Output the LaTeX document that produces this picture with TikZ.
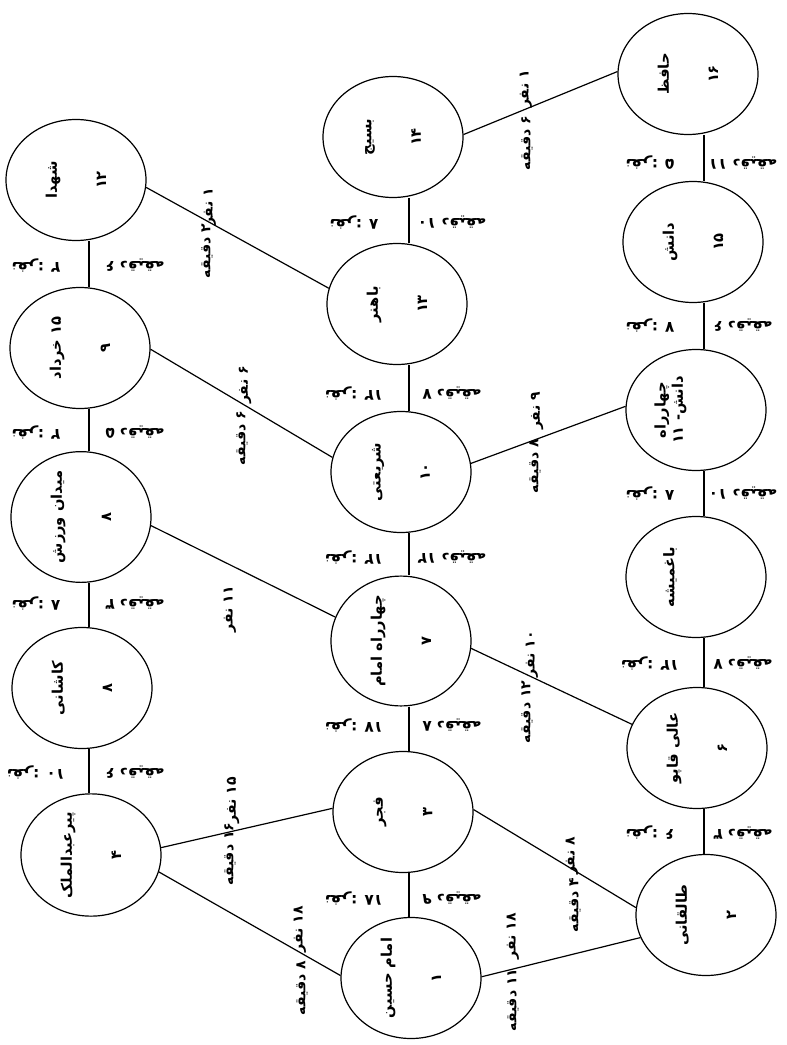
\documentclass[tikz,border=0pt]{standalone}
\usepackage{fontspec}
\newfontfamily\fa[Script=Arabic]{DejaVu Sans}
\TeXXeTstate=1
\usetikzlibrary{shapes.geometric}
\newcommand{\rl}[1]{\beginR #1\endR}
\tikzset{
  stop/.style={draw, ellipse, line width=0.9pt, minimum width=90.75pt, minimum height=105pt,
    inner sep=0pt, rotate=90, align=center, font=\fa\bfseries\fontsize{11}{13}\selectfont},
  lbl/.style={rotate=90, inner sep=1pt, font=\fa\bfseries\fontsize{10.5}{12}\selectfont},
  vlbl/.style={rotate=180, inner sep=1pt, font=\fa\bfseries\fontsize{11.5}{13}\selectfont}
}

\begin{document}
\begin{tikzpicture}[x=0.75pt, y=-0.75pt, line width=0.9pt]
\useasboundingbox (0,0) rectangle (787,1045);
% x of the straight links in each column
\coordinate (lcol) at (89,0);
\coordinate (mcol) at (409,0);
\coordinate (rcol) at (704,0);

% left column
\node[stop] (s12) at (76,180) {\rl{شهدا}\\[24pt]\rl{۱۲}};
\node[stop] (s9) at (80,348) {\rl{۱۵ خرداد}\\[24pt]\rl{۹}};
\node[stop] (s8) at (81,517) {\rl{میدان ورزش}\\[24pt]\rl{۸}};
\node[stop] (s5) at (82,688) {\rl{کاشانی}\\[24pt]\rl{۸}};
\node[stop] (s4) at (91,855) {\rl{پیرعبدالملک}\\[24pt]\rl{۴}};
% middle column
\node[stop] (s14) at (393,137) {\rl{بسیج}\\[24pt]\rl{۱۴}};
\node[stop] (s13) at (397,304) {\rl{باهنر}\\[24pt]\rl{۱۳}};
\node[stop] (s10) at (401,472) {\rl{شریعتی}\\[24pt]\rl{۱۰}};
\node[stop] (s7) at (401,641) {\rl{چهارراه امام}\\[24pt]\rl{۷}};
\node[stop] (s3) at (403,812) {\rl{فجر}\\[24pt]\rl{۳}};
\node[stop] (s1) at (411,978) {\rl{امام حسین}\\[24pt]\rl{۱}};
% right column
\node[stop] (s16) at (688,74) {\rl{حافظ}\\[24pt]\rl{۱۶}};
\node[stop] (s15) at (693,242) {\rl{دانش}\\[24pt]\rl{۱۵}};
\node[stop] (s11) at (696,410) {\rl{چهارراه}\\\rl{دانش- ۱۱}\\[24pt]\strut};
\node[stop] (sb) at (696,577) {\rl{باغمیشه}\\[24pt]\strut};
\node[stop] (s6) at (697,748) {\rl{عالی قاپو}\\[24pt]\rl{۶}};
\node[stop] (s2) at (706,915) {\rl{طالقانی}\\[24pt]\rl{۲}};

% straight links
\draw (s12.west -| lcol) -- (s9.east -| lcol);
\draw (s9.west -| lcol) -- (s8.east -| lcol);
\draw (s8.west -| lcol) -- (s5.east -| lcol);
\draw (s5.west -| lcol) -- (s4.east -| lcol);
\draw (s14.west -| mcol) -- (s13.east -| mcol);
\draw (s13.west -| mcol) -- (s10.east -| mcol);
\draw (s10.west -| mcol) -- (s7.east -| mcol);
\draw (s7.west -| mcol) -- (s3.east -| mcol);
\draw (s3.west -| mcol) -- (s1.east -| mcol);
\draw (s16.west -| rcol) -- (s15.east -| rcol);
\draw (s15.west -| rcol) -- (s11.east -| rcol);
\draw (s11.west -| rcol) -- (sb.east -| rcol);
\draw (sb.west -| rcol) -- (s6.east -| rcol);
\draw (s6.west -| rcol) -- (s2.east -| rcol);

% cross links
\draw (s12.264) -- (s13.77);
\draw (s14.272) -- (s16.88);
\draw (s9.269) -- (s10.78);
\draw (s8.263) -- (s7.70);
\draw (s10.277) -- (s11.87);
\draw (s7.264) -- (s6.70);
\draw (s4.276) -- (s3.87);
\draw (s4.256) -- (s1.88);
\draw (s3.272) -- (s2.84);
\draw (s1.271) -- (s2.109);

% labels of the cross links
\node[lbl] (c1a) at (210,207) {\rl{۱ نفر}};
\node[lbl] (c1b) at (207,251) {\rl{۲ دقیقه}};
\node[lbl] (c2a) at (526,89) {\rl{۱ نفر}};
\node[lbl] (c2b) at (527,143) {\rl{۶ دقیقه}};
\node[lbl] (c3a) at (245,385) {\rl{۶ نفر}};
\node[lbl] (c3b) at (242,438) {\rl{۶ دقیقه}};
\node[lbl] (c4a) at (230,609) {\rl{۱۱ نفر}};
\node[lbl] (c5a) at (537,411) {\rl{۹ نفر}};
\node[lbl] (c5b) at (535,466) {\rl{۸ دقیقه}};
\node[lbl] (c6a) at (532,654) {\rl{۱۰ نفر}};
\node[lbl] (c6b) at (527,712) {\rl{۱۲ دقیقه}};
\node[lbl] (c7a) at (233,800) {\rl{۱۵ نفر}};
\node[lbl] (c7b) at (230,854) {\rl{۱۶ دقیقه}};
\node[lbl] (c8a) at (300,929) {\rl{۱۸ نفر}};
\node[lbl] (c8b) at (302,988) {\rl{۸ دقیقه}};
\node[lbl] (c9a) at (572,856) {\rl{۸ نفر}};
\node[lbl] (c9b) at (575,905) {\rl{۴ دقیقه}};
\node[lbl] (c10a) at (513,936) {\rl{۱۸ نفر}};
\node[lbl] (c10b) at (513,1000) {\rl{۱۱ دقیقه}};

% labels of the straight links
\node[vlbl] (v1a) at (36,265) {\rl{نفر: ۲}};
\node[vlbl] (v1b) at (135,265) {\rl{۶ دقیقه}};
\node[vlbl] (v2a) at (36,432) {\rl{نفر: ۲}};
\node[vlbl] (v2b) at (135,432) {\rl{۵ دقیقه}};
\node[vlbl] (v3a) at (36,603) {\rl{نفر: ۸}};
\node[vlbl] (v3b) at (135,603) {\rl{۳ دقیقه}};
\node[vlbl] (v4a) at (36,772) {\rl{نفر: ۱۰}};
\node[vlbl] (v4b) at (135,772) {\rl{۶ دقیقه}};
\node[vlbl] (v5a) at (354,222) {\rl{نفر: ۸}};
\node[vlbl] (v5b) at (452,222) {\rl{۱۰ دقیقه}};
\node[vlbl] (v6a) at (354,393) {\rl{نفر: ۱۲}};
\node[vlbl] (v6b) at (452,393) {\rl{۷ دقیقه}};
\node[vlbl] (v7a) at (354,557) {\rl{نفر: ۱۲}};
\node[vlbl] (v7b) at (452,557) {\rl{۱۲ دقیقه}};
\node[vlbl] (v8a) at (354,725) {\rl{نفر: ۱۷}};
\node[vlbl] (v8b) at (452,725) {\rl{۸ دقیقه}};
\node[vlbl] (v9a) at (354,898) {\rl{نفر: ۱۸}};
\node[vlbl] (v9b) at (452,898) {\rl{۹ دقیقه}};
\node[vlbl] (v10a) at (650,163) {\rl{نفر: ۵}};
\node[vlbl] (v10b) at (743,163) {\rl{۱۱ دقیقه}};
\node[vlbl] (v11a) at (650,325) {\rl{نفر: ۷}};
\node[vlbl] (v11b) at (743,325) {\rl{۶ دقیقه}};
\node[vlbl] (v12a) at (650,493) {\rl{نفر: ۸}};
\node[vlbl] (v12b) at (743,493) {\rl{۱۰ دقیقه}};
\node[vlbl] (v13a) at (650,663) {\rl{نفر: ۱۲}};
\node[vlbl] (v13b) at (743,663) {\rl{۷ دقیقه}};
\node[vlbl] (v14a) at (650,833) {\rl{نفر: ۶}};
\node[vlbl] (v14b) at (743,833) {\rl{۳ دقیقه}};
\end{tikzpicture}
\end{document}
